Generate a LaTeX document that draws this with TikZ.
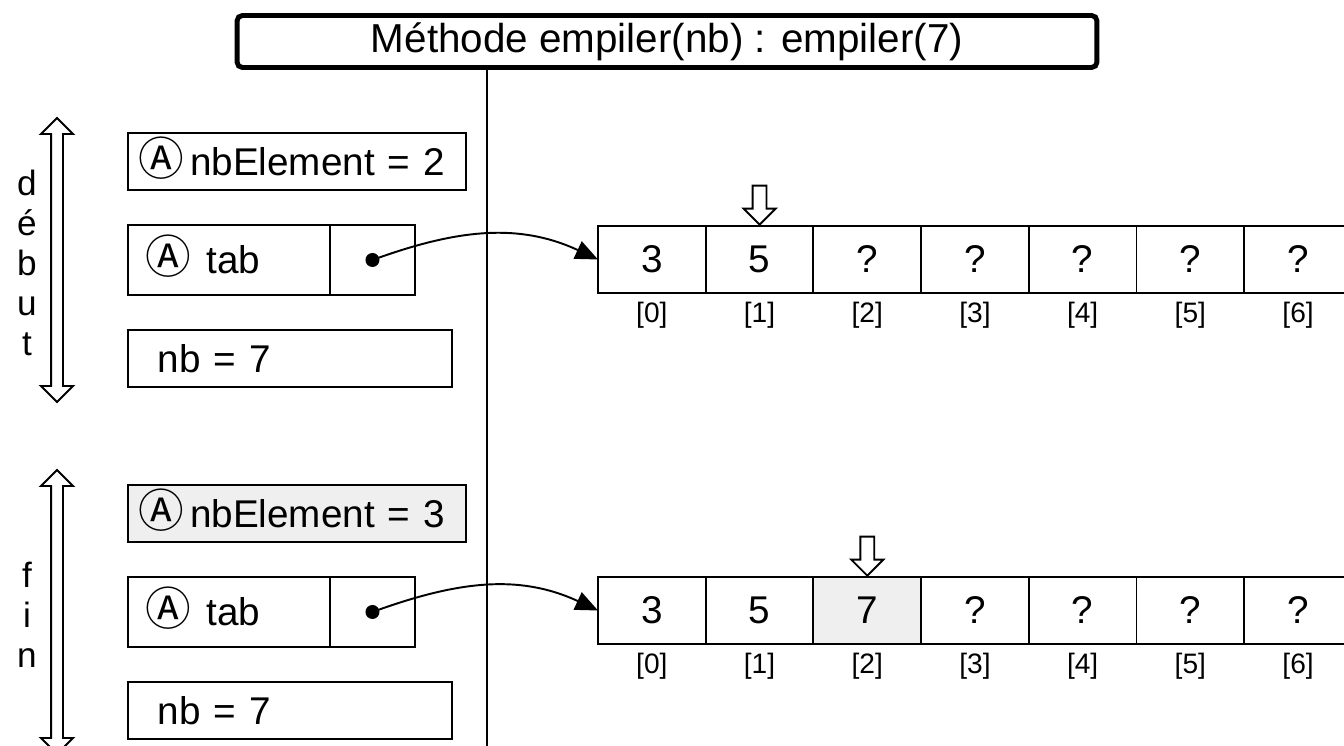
\documentclass[tikz,border=0pt]{standalone}
\usepackage{fontspec}
\setmainfont{Liberation Sans}
\newfontfamily\symbfont{Noto Sans CJK JP}
\usetikzlibrary{arrows.meta,positioning,shapes.arrows}
\definecolor{grisclair}{HTML}{EFEFEF}
\newcommand{\abst}{\smash{\symbfont\fontsize{26}{26}\selectfont Ⓐ}}

\begin{document}
\begin{tikzpicture}[x=0.02cm, y=-0.02cm,
    font=\fontsize{22}{26}\selectfont,
    titre/.style={rectangle, draw, line width=2.8pt, rounded corners=3pt,
      minimum width=17.2cm, minimum height=1.04cm, inner sep=0pt,
      font=\fontsize{23}{26}\selectfont},
    champ/.style={rectangle, draw, line width=1.1pt, minimum height=1.14cm,
      align=left, inner ysep=0pt, outer sep=0pt},
    cellule/.style={rectangle, draw, line width=1.1pt, minimum width=2.154cm,
      minimum height=1.34cm, inner sep=0pt, outer sep=0pt, anchor=north west},
    indice/.style={font=\fontsize{16}{18}\selectfont},
    point/.style={circle, fill=black, minimum size=0.28cm, inner sep=0pt},
    duree/.style={double arrow, draw, line width=1.1pt, fill=white, rotate=90,
      inner xsep=0pt, inner ysep=0.1cm, double arrow head extend=0.2cm,
      minimum height=5.68cm},
    curseur/.style={single arrow, draw, line width=1.1pt, fill=white, rotate=-90,
      inner xsep=0pt, inner ysep=0.12cm, single arrow head extend=0.18cm,
      minimum height=0.78cm, anchor=tip},
    lien/.style={-{Triangle[length=0.45cm, width=0.38cm]}, line width=1.1pt},
    etape/.style={align=center, font=\fontsize{20}{22.7}\selectfont}
  ]
    \clip (0,0) rectangle (1344,746);
    \fill[white] (0,0) rectangle (1344,746);

    \node[titre] (titre) at (667,41.5) {Méthode empiler(nb) : empiler(7)};
    \coordinate (bas) at (487,746);
    \draw[line width=1.1pt] (titre.south -| bas) -- (bas);

    % debut
    \node[duree] (fl1) at (57,260) {};
    \node[etape] (debut) at (27,263) {d\\é\\b\\u\\t};
    \node[champ, text width=6.36cm, inner xsep=0.2cm, anchor=north west]
      (nbe1) at (128,133) {\abst\,nbElement = 2};
    \node[champ, text width=3.32cm, inner xsep=0.36cm, minimum height=1.4cm,
      below right=0.7cm and 0cm of nbe1.south west] (tab1) {\abst\hspace{0.3cm}tab};
    \node[champ, minimum width=1.7cm, minimum height=1.4cm, right=0pt of tab1] (ref1) {};
    \node[point] (pt1) at (ref1.center) {};
    \node[champ, text width=5.28cm, inner xsep=0.6cm,
      below right=0.7cm and 0cm of tab1.south west] (nb1) {nb = 7};
    \foreach \v [count=\i from 0] in {3,5,?,?,?,?,?}
      \node[cellule] (ha\i) at ({598+107.7*\i},226) {\v};
    \foreach \i in {0,...,6}
      \node[indice] (ih\i) at ([yshift=-0.44cm]ha\i.south) {[\i]};
    \node[curseur] (c1) at (ha1.north) {};
    \draw[lien] (pt1.center) to[out=20, in=155] (ha0.west);

    % fin
    \node[duree] (fl2) at (57,612) {};
    \node[etape] (fin) at (27,615) {f\\i\\n};
    \node[champ, text width=6.36cm, inner xsep=0.2cm, anchor=north west,
      fill=grisclair] (nbe2) at (128,485) {\abst\,nbElement = 3};
    \node[champ, text width=3.32cm, inner xsep=0.36cm, minimum height=1.4cm,
      below right=0.7cm and 0cm of nbe2.south west] (tab2) {\abst\hspace{0.3cm}tab};
    \node[champ, minimum width=1.7cm, minimum height=1.4cm, right=0pt of tab2] (ref2) {};
    \node[point] (pt2) at (ref2.center) {};
    \node[champ, text width=5.28cm, inner xsep=0.6cm,
      below right=0.7cm and 0cm of tab2.south west] (nb2) {nb = 7};
    \foreach \v/\c [count=\i from 0] in {3/white,5/white,7/grisclair,?/white,?/white,?/white,?/white}
      \node[cellule, fill=\c] (ba\i) at ({598+107.7*\i},577) {\v};
    \foreach \i in {0,...,6}
      \node[indice] (ib\i) at ([yshift=-0.44cm]ba\i.south) {[\i]};
    \node[curseur] (c2) at (ba2.north) {};
    \draw[lien] (pt2.center) to[out=20, in=155] (ba0.west);
\end{tikzpicture}
\end{document}
